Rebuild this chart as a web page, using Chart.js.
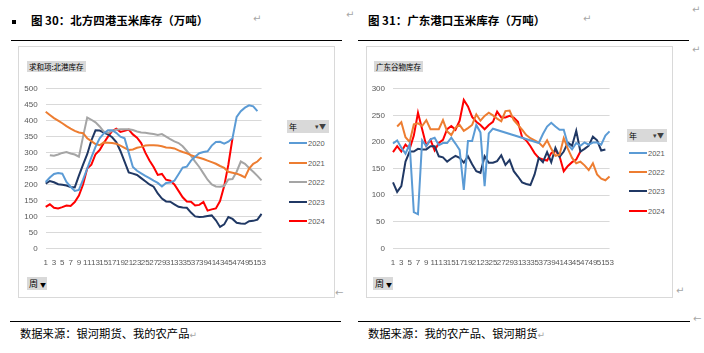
<!DOCTYPE html>
<html><head><meta charset="utf-8">
<script src="https://cdn.jsdelivr.net/npm/chart.js@4.4.1/dist/chart.umd.min.js"></script>
<style>
html,body{margin:0;padding:0;background:#fff}
body{width:704px;height:353px;position:relative;overflow:hidden;font-family:"Noto Sans CJK SC","Noto Sans",sans-serif}
.a{position:absolute;white-space:nowrap}
.title{font-weight:bold;font-size:11.5px;line-height:14px;color:#000}
.ret{color:#a6a6a6;font-size:10px;line-height:12px;font-family:"DejaVu Sans",sans-serif}
.hl{height:0;border-top:1px solid #000}
.box{border:1px solid #d9d9d9;box-sizing:border-box}
.btn{background:#d9d9d9;color:#000;font-size:7.5px;line-height:11px;padding:0 2px;box-sizing:border-box}
.src{font-size:11.3px;line-height:13px;color:#000}
.leg{font-family:"Liberation Sans",Arial,sans-serif;font-size:7.5px;color:#595959;line-height:9px}
.legline{height:2px}
canvas{position:absolute}
</style></head>
<body>
<!-- headers -->
<div class="a" style="left:12px;top:20px;width:4px;height:4px;background:#000"></div>
<div class="a title" style="left:31px;top:13px">图 30：北方四港玉米库存（万吨）</div>
<div class="a ret" style="left:253px;top:13px">↵</div>
<div class="a ret" style="left:346px;top:9px">↵</div>
<div class="a hl" style="left:11px;top:40px;width:331px"></div>
<div class="a title" style="left:368px;top:13px">图 31：广东港口玉米库存（万吨）</div>
<div class="a ret" style="left:583px;top:13px">↵</div>
<div class="a ret" style="left:692px;top:4px">↵</div>
<div class="a ret" style="left:692px;top:44px">↵</div>
<div class="a hl" style="left:358px;top:40px;width:331px"></div>

<!-- chart frames -->
<div class="a box" style="left:18px;top:46px;width:317px;height:252px"></div>
<div class="a box" style="left:366px;top:46px;width:307px;height:252px"></div>

<div class="a btn" style="left:27px;top:61px;height:11px">求和项:北港库存</div>
<div class="a btn" style="left:374px;top:61px;height:11px">广东谷物库存</div>
<div class="a btn" style="left:27px;top:277px;width:20px;height:13px;font-size:9px;line-height:13px">周 <span style="font-size:6px">▼</span></div>
<div class="a btn" style="left:373px;top:277px;width:20px;height:13px;font-size:9px;line-height:13px">周 <span style="font-size:6px">▼</span></div>

<canvas id="c1" width="258" height="200" style="left:18px;top:76px;width:258px;height:200px"></canvas>
<canvas id="c2" width="258" height="200" style="left:366px;top:76px;width:258px;height:200px"></canvas>

<div id="leg1"></div>
<div id="leg2"></div>

<!-- footers -->
<div class="a ret" style="left:335px;top:287px">←</div>
<div class="a ret" style="left:676px;top:285px">↵</div>
<div class="a hl" style="left:10px;top:321px;width:331px"></div>
<div class="a hl" style="left:358px;top:321px;width:332px"></div>
<div class="a ret" style="left:693px;top:313px">←</div>
<div class="a src" style="left:20px;top:327px">数据来源：银河期货、我的农产品<span class="ret" style="font-size:9px">↵</span></div>
<div class="a src" style="left:368px;top:327px">数据来源：我的农产品、银河期货<span class="ret" style="font-size:9px">↵</span></div>

<script>
// ---------- categories ----------
const weeks = Array.from({length: 53}, (_, i) => String(i + 1));

// ---------- 北方四港玉米库存 (万吨) ----------
const north2020 = [208,222,233,236,234,208,193,180,183,215,250,285,318,345,360,370,370,362,350,345,300,255,243,235,227,220,212,205,194,205,206,212,232,253,256,275,287,298,302,304,322,333,334,328,334,345,412,430,441,448,445,430,null];
const north2021 = [428,418,408,400,392,383,375,368,363,361,345,336,327,323,332,331,330,328,322,315,308,310,315,318,322,323,323,322,320,316,315,313,307,302,298,292,287,284,280,275,270,265,258,252,240,237,234,229,222,250,265,272,285];
const north2022 = [null,292,290,294,299,302,297,294,287,350,410,403,395,382,366,362,368,372,373,373,373,371,366,363,362,360,358,355,358,350,342,335,330,320,305,290,272,255,235,215,200,194,193,195,216,217,240,272,265,252,240,227,213];
const north2023 = [203,211,207,201,199,197,192,191,228,262,295,338,370,369,363,357,348,333,305,272,238,234,230,220,210,200,193,172,156,147,146,138,130,128,127,112,100,98,99,101,103,88,67,75,98,92,80,78,77,85,86,90,108];
const north2024 = [130,138,127,125,129,134,133,145,165,200,250,262,295,308,330,350,367,375,365,368,372,357,347,330,300,275,255,230,233,215,212,200,180,160,147,146,134,136,145,118,122,125,148,195,262,345,null,null,null,null,null,null,null];

// ---------- 广东港口玉米库存 (万吨) ----------
const gd2021 = [197,203,189,178,196,68,64,203,192,205,208,194,198,198,208,197,185,110,202,202,232,218,117,216,225,null,null,null,null,null,null,null,null,null,null,198,215,229,236,229,223,223,195,186,198,193,199,195,199,199,195,212,220];
const gd2022 = [null,229,237,209,200,233,235,230,241,224,224,224,241,220,213,227,232,221,226,232,252,240,249,255,250,244,239,258,259,241,232,223,213,207,203,199,191,203,187,174,176,207,187,170,160,163,156,147,160,139,131,128,135];
const gd2023 = [124,106,117,163,182,182,187,186,186,192,192,173,171,163,169,174,170,161,173,158,145,142,173,161,161,164,175,157,166,145,135,124,121,119,139,170,162,181,162,189,172,182,199,193,221,182,187,193,210,203,184,186,null];
const gd2024 = [181,192,182,195,187,212,255,224,193,204,184,198,204,224,230,223,240,279,267,247,238,232,224,232,238,257,246,246,249,246,238,209,203,192,179,170,167,165,179,184,173,145,155,162,167,182,null,null,null,null,null,null,null];

const C_BLUE = '#5B9BD5', C_ORANGE = '#ED7D31', C_GREY = '#A5A5A5', C_NAVY = '#203864', C_RED = '#FF0000';

function ds(label, data, color) {
  return {label, data, borderColor: color, backgroundColor: color, borderWidth: 2,
          pointRadius: 0, tension: 0, spanGaps: true, fill: false};
}

function makeChart(id, datasets, max, yWidth, rightPad) {
  return new Chart(document.getElementById(id), {
    type: 'line',
    data: {labels: weeks, datasets},
    options: {
      responsive: false, animation: false, devicePixelRatio: 1,
      layout: {padding: {top: 10.7, right: rightPad, left: 0, bottom: 0}},
      plugins: {legend: {display: false}, tooltip: {enabled: false}},
      scales: {
        x: {
          grid: {display: false, drawTicks: false},
          border: {display: false},
          ticks: {
            autoSkip: false, maxRotation: 0, minRotation: 0, padding: 10,
            color: '#595959', font: {family: 'Liberation Sans', size: 8},
            callback: function(v, i) { return i % 2 === 0 ? this.getLabelForValue(v) : ''; }
          },
          afterFit: s => { s.height = 27.7; }
        },
        y: {
          min: 0, max: max,
          grid: {color: '#d9d9d9', lineWidth: 1, drawTicks: false},
          border: {display: false},
          ticks: {stepSize: 50, padding: 8, color: '#595959', font: {family: 'Liberation Sans', size: 8}},
          afterFit: s => { s.width = yWidth; }
        }
      }
    }
  });
}

const set1 = [ds('2020', north2020, C_BLUE), ds('2021', north2021, C_ORANGE), ds('2022', north2022, C_GREY),
              ds('2023', north2023, C_NAVY), ds('2024', north2024, C_RED)];
const set2 = [ds('2021', gd2021, C_BLUE), ds('2022', gd2022, C_ORANGE),
              ds('2023', gd2023, C_NAVY), ds('2024', gd2024, C_RED)];

makeChart('c1', set1, 500, 27.7, 5);
makeChart('c2', set2, 300, 27, 10);

function legend(id, sets, x, titleY, titleW, ys) {
  const root = document.getElementById(id);
  let html = `<div class="a btn" style="left:${x}px;top:${titleY}px;width:${titleW}px;height:13px;font-size:8px;line-height:13px;color:#000">年<span style="position:absolute;right:3px;font-size:7px;color:#404040">▾▼</span></div>`;
  sets.forEach((d, i) => {
    html += `<div class="a legline" style="left:${x + 2}px;top:${ys[i] - 1}px;width:18px;background:${d.borderColor}"></div>`;
    html += `<div class="a leg" style="left:${x + 21}px;top:${ys[i] - 4.5}px">${d.label}</div>`;
  });
  root.innerHTML = html;
}
legend('leg1', set1, 287, 120, 42, [143, 163, 182, 202, 221]);
legend('leg2', set2, 627, 129, 40, [153, 172, 191, 211]);
</script>
</body></html>
